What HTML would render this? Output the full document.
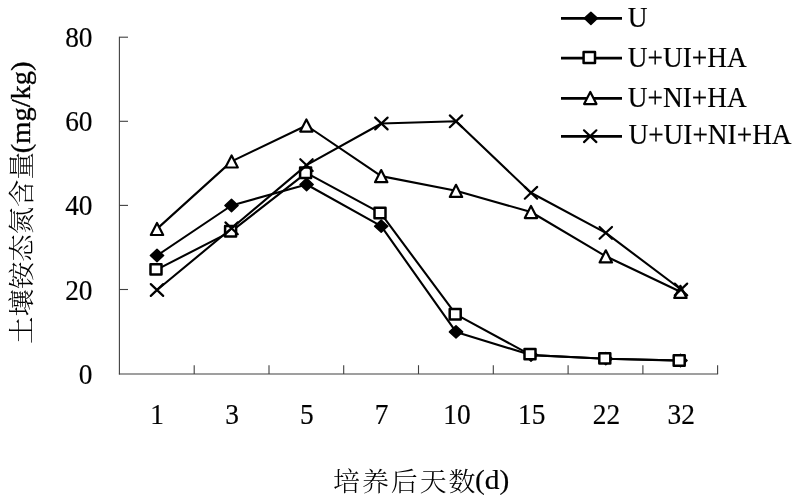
<!DOCTYPE html>
<html lang="zh">
<head>
<meta charset="utf-8">
<title>土壤铵态氮含量</title>
<style>
html,body{margin:0;padding:0;background:#fff;}
body{width:795px;height:498px;overflow:hidden;font-family:"Liberation Serif","Noto Serif CJK SC",serif;}
svg{display:block;}
</style>
</head>
<body>
<svg width="795" height="498" viewBox="0 0 795 498">
<rect width="795" height="498" fill="#fff"/>
<g stroke="#404040" stroke-width="1.1" fill="none">
<path d="M119.4 36.7V374.45"/>
<path d="M118.9 373.95H718.1"/>
<path d="M119.4 289.5h8.6"/>
<path d="M119.4 205.4h8.6"/>
<path d="M119.4 121.3h8.6"/>
<path d="M119.4 37.2h8.6"/>
<path d="M194.2 373.95V365.2"/>
<path d="M269.0 373.95V365.2"/>
<path d="M343.7 373.95V365.2"/>
<path d="M418.5 373.95V365.2"/>
<path d="M493.3 373.95V365.2"/>
<path d="M568.1 373.95V365.2"/>
<path d="M642.9 373.95V365.2"/>
<path d="M717.6 373.95V365.2"/>
</g>
<polyline points="157.0,255.5 231.5,205.5 306.6,184.5 381.2,226.2 456.0,331.9 531.0,355.0 605.8,358.7 680.5,360.5" fill="none" stroke="#000" stroke-width="2.1" stroke-linejoin="round"/>
<path d="M157.0 249.4L163.6 255.5L157.0 261.6L150.4 255.5Z" fill="#000" stroke="#000" stroke-width="1.5" stroke-linejoin="round"/>
<path d="M231.5 199.4L238.1 205.5L231.5 211.6L224.9 205.5Z" fill="#000" stroke="#000" stroke-width="1.5" stroke-linejoin="round"/>
<path d="M306.6 178.4L313.2 184.5L306.6 190.6L300.0 184.5Z" fill="#000" stroke="#000" stroke-width="1.5" stroke-linejoin="round"/>
<path d="M381.2 220.1L387.8 226.2L381.2 232.3L374.6 226.2Z" fill="#000" stroke="#000" stroke-width="1.5" stroke-linejoin="round"/>
<path d="M456.0 325.8L462.6 331.9L456.0 338.0L449.4 331.9Z" fill="#000" stroke="#000" stroke-width="1.5" stroke-linejoin="round"/>
<path d="M531.0 348.9L537.6 355.0L531.0 361.1L524.4 355.0Z" fill="#000" stroke="#000" stroke-width="1.5" stroke-linejoin="round"/>
<path d="M605.8 352.6L612.4 358.7L605.8 364.8L599.2 358.7Z" fill="#000" stroke="#000" stroke-width="1.5" stroke-linejoin="round"/>
<path d="M680.5 354.4L687.1 360.5L680.5 366.6L673.9 360.5Z" fill="#000" stroke="#000" stroke-width="1.5" stroke-linejoin="round"/>
<polyline points="156.7,269.6 231.3,231.4 306.3,172.9 380.7,213.2 455.9,314.4 531.0,355.1 605.8,358.8 680.5,360.6" fill="none" stroke="#000" stroke-width="2.1" stroke-linejoin="round"/>
<rect x="150.5" y="264.2" width="11.0" height="10.4" fill="#fff" stroke="#000" stroke-width="2.5" stroke-linejoin="round"/>
<rect x="225.1" y="226.0" width="11.0" height="10.4" fill="#fff" stroke="#000" stroke-width="2.5" stroke-linejoin="round"/>
<rect x="300.1" y="167.5" width="11.0" height="10.4" fill="#fff" stroke="#000" stroke-width="2.5" stroke-linejoin="round"/>
<rect x="374.5" y="207.8" width="11.0" height="10.4" fill="#fff" stroke="#000" stroke-width="2.5" stroke-linejoin="round"/>
<rect x="449.7" y="309.0" width="11.0" height="10.4" fill="#fff" stroke="#000" stroke-width="2.5" stroke-linejoin="round"/>
<rect x="524.5" y="348.9" width="11.0" height="10.4" fill="#fff" stroke="#000" stroke-width="2.5" stroke-linejoin="round"/>
<rect x="599.3" y="353.2" width="11.0" height="10.4" fill="#fff" stroke="#000" stroke-width="2.5" stroke-linejoin="round"/>
<rect x="673.7" y="355.3" width="11.0" height="10.4" fill="#fff" stroke="#000" stroke-width="2.5" stroke-linejoin="round"/>
<polyline points="157.0,228.9 231.6,161.4 306.4,125.5 381.2,176.1 456.0,190.8 531.0,212.0 605.8,256.3 680.4,291.8" fill="none" stroke="#000" stroke-width="2.1" stroke-linejoin="round"/>
<path d="M157.0 222.9L163.2 235.0L150.8 235.0Z" fill="#fff" stroke="#000" stroke-width="2.2" stroke-linejoin="round"/>
<path d="M231.6 155.4L237.8 167.5L225.4 167.5Z" fill="#fff" stroke="#000" stroke-width="2.2" stroke-linejoin="round"/>
<path d="M306.4 119.5L312.6 131.6L300.2 131.6Z" fill="#fff" stroke="#000" stroke-width="2.2" stroke-linejoin="round"/>
<path d="M381.2 170.1L387.4 182.2L375.0 182.2Z" fill="#fff" stroke="#000" stroke-width="2.2" stroke-linejoin="round"/>
<path d="M456.0 184.8L462.2 196.9L449.8 196.9Z" fill="#fff" stroke="#000" stroke-width="2.2" stroke-linejoin="round"/>
<path d="M531.0 206.0L537.2 218.1L524.8 218.1Z" fill="#fff" stroke="#000" stroke-width="2.2" stroke-linejoin="round"/>
<path d="M605.8 250.3L612.0 262.4L599.6 262.4Z" fill="#fff" stroke="#000" stroke-width="2.2" stroke-linejoin="round"/>
<path d="M680.4 285.8L686.6 297.9L674.2 297.9Z" fill="#fff" stroke="#000" stroke-width="2.2" stroke-linejoin="round"/>
<polyline points="157.0,290.0 231.6,228.3 306.5,165.1 381.4,123.5 456.0,121.3 531.0,192.8 605.8,232.9 681.0,289.5" fill="none" stroke="#000" stroke-width="2.1" stroke-linejoin="round"/>
<path d="M150.8 284.1L163.2 295.9M150.8 295.9L163.2 284.1" stroke="#000" stroke-width="2.2" stroke-linecap="round" fill="none"/>
<path d="M225.4 222.4L237.8 234.2M225.4 234.2L237.8 222.4" stroke="#000" stroke-width="2.2" stroke-linecap="round" fill="none"/>
<path d="M300.3 159.2L312.7 171.0M300.3 171.0L312.7 159.2" stroke="#000" stroke-width="2.2" stroke-linecap="round" fill="none"/>
<path d="M375.2 117.6L387.6 129.4M375.2 129.4L387.6 117.6" stroke="#000" stroke-width="2.2" stroke-linecap="round" fill="none"/>
<path d="M449.8 115.4L462.2 127.2M449.8 127.2L462.2 115.4" stroke="#000" stroke-width="2.2" stroke-linecap="round" fill="none"/>
<path d="M524.8 186.9L537.2 198.7M524.8 198.7L537.2 186.9" stroke="#000" stroke-width="2.2" stroke-linecap="round" fill="none"/>
<path d="M599.6 227.0L612.0 238.8M599.6 238.8L612.0 227.0" stroke="#000" stroke-width="2.2" stroke-linecap="round" fill="none"/>
<path d="M674.8 283.6L687.2 295.4M674.8 295.4L687.2 283.6" stroke="#000" stroke-width="2.2" stroke-linecap="round" fill="none"/>
<path d="M561 18.3H622" stroke="#000" stroke-width="2.7"/>
<path d="M590.9 12.2L597.5 18.3L590.9 24.4L584.3 18.3Z" fill="#000" stroke="#000" stroke-width="1.5" stroke-linejoin="round"/>
<path d="M561 58.1H622" stroke="#000" stroke-width="2.7"/>
<rect x="583.6" y="51.9" width="11.4" height="11.0" fill="#fff" stroke="#000" stroke-width="2.5" stroke-linejoin="round"/>
<path d="M561 98.3H622" stroke="#000" stroke-width="2.7"/>
<path d="M590.3 92.0L596.5 104.1L584.1 104.1Z" fill="#fff" stroke="#000" stroke-width="2.2" stroke-linejoin="round"/>
<path d="M561 136.4H622" stroke="#000" stroke-width="2.7"/>
<path d="M584.0 130.3L596.4 142.1M584.0 142.1L596.4 130.3" stroke="#000" stroke-width="2.2" stroke-linecap="round" fill="none"/>
<g font-family="'Liberation Serif', 'Noto Serif CJK SC', serif" font-size="28.5" fill="#000" stroke="#000" stroke-width="0.18">
<text transform="translate(627.8 26.6) scale(0.96 1)" text-anchor="start">U</text>
<text transform="translate(627.8 66.8) scale(0.96 1)" text-anchor="start">U+UI+HA</text>
<text transform="translate(627.8 106.6) scale(0.96 1)" text-anchor="start">U+NI+HA</text>
<text transform="translate(628.4 143.5) scale(0.96 1)" text-anchor="start">U+UI+NI+HA</text>
<text transform="translate(92.5 383.6) scale(0.96 1)" text-anchor="end">0</text>
<text transform="translate(92.5 299.5) scale(0.96 1)" text-anchor="end">20</text>
<text transform="translate(92.5 215.4) scale(0.96 1)" text-anchor="end">40</text>
<text transform="translate(92.5 131.3) scale(0.96 1)" text-anchor="end">60</text>
<text transform="translate(92.5 47.2) scale(0.96 1)" text-anchor="end">80</text>
<text transform="translate(157.2 423.8) scale(0.96 1)" text-anchor="middle">1</text>
<text transform="translate(232.0 423.8) scale(0.96 1)" text-anchor="middle">3</text>
<text transform="translate(306.8 423.8) scale(0.96 1)" text-anchor="middle">5</text>
<text transform="translate(381.5 423.8) scale(0.96 1)" text-anchor="middle">7</text>
<text transform="translate(456.9 423.8) scale(0.96 1)" text-anchor="middle">10</text>
<text transform="translate(531.7 423.8) scale(0.96 1)" text-anchor="middle">15</text>
<text transform="translate(606.5 423.8) scale(0.96 1)" text-anchor="middle">22</text>
<text transform="translate(681.2 423.8) scale(0.96 1)" text-anchor="middle">32</text>
</g>
<g font-family="'Liberation Serif', 'Noto Serif CJK SC', serif" fill="#000">
<text transform="translate(333.0 490.6) scale(1.02 1)" font-size="26.45" letter-spacing="1.88" font-weight="300">培养后天数</text>
<text transform="translate(475.0 488.7) scale(1.04 1)" font-size="28.3" stroke="#000" stroke-width="0.2">(d)</text>
<text transform="translate(30.6 343.9) rotate(-90) scale(1.05 1)" font-size="26.1" font-weight="300">土壤铵态氮含量</text>
<text transform="translate(30.1 153.2) rotate(-90) scale(1.075 1)" font-size="26.5" stroke="#000" stroke-width="0.3">(mg/kg)</text>
</g>
</svg>
</body>
</html>
